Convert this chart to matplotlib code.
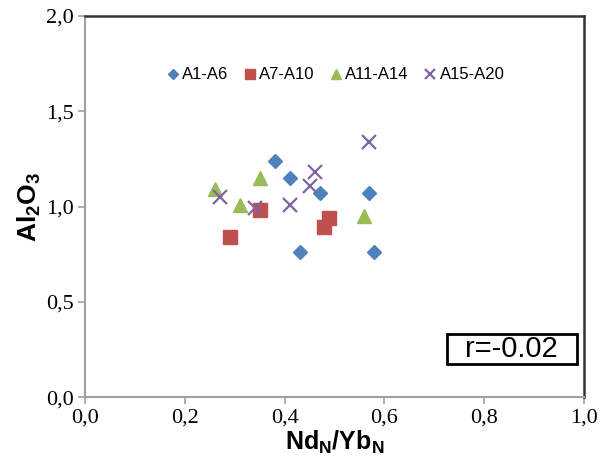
import matplotlib
matplotlib.use('Agg')
import matplotlib.pyplot as plt
from matplotlib.patches import Rectangle

plt.rcParams['mathtext.fontset'] = 'custom'
plt.rcParams['mathtext.rm'] = 'Liberation Sans'
plt.rcParams['mathtext.bf'] = 'Liberation Sans:bold'

# data
a1_x = [0.38, 0.41, 0.47, 0.57, 0.43, 0.58]
a1_y = [1.24, 1.15, 1.07, 1.07, 0.76, 0.76]
a7_x = [0.35, 0.29, 0.49, 0.48]
a7_y = [0.98, 0.84, 0.94, 0.89]
a11_x = [0.26, 0.35, 0.31, 0.56]
a11_y = [1.09, 1.15, 1.01, 0.95]
a15_x = [0.57, 0.46, 0.45, 0.27, 0.34, 0.41]
a15_y = [1.34, 1.18, 1.11, 1.05, 0.99, 1.01]

xticks = [0.0, 0.2, 0.4, 0.6, 0.8, 1.0]
xtick_labels = ['0,0', '0,2', '0,4', '0,6', '0,8', '1,0']
yticks = [0.0, 0.5, 1.0, 1.5, 2.0]
ytick_labels = ['0,0', '0,5', '1,0', '1,5', '2,0']

fig = plt.figure(figsize=(6.02, 4.66), dpi=100)
ax = fig.add_axes([0.1412, 0.1474, 0.8288, 0.8189])

ax.plot(a1_x, a1_y, 'D', color='#4F81BD', markersize=7.4, linestyle='none', label='A1-A6')
ax.plot(a7_x, a7_y, 's', color='#C0504D', markersize=10.5, linestyle='none', label='A7-A10')
ax.plot(a11_x, a11_y, '^', color='#9BBB59', markersize=10.5, linestyle='none', label='A11-A14')
ax.plot(a15_x, a15_y, 'x', color='#8064A2', markersize=10, markeredgewidth=1.6,
        linestyle='none', label='A15-A20')

ax.set_xlim(0, 1)
ax.set_ylim(0, 2)
ax.set_xticks(xticks)
ax.set_xticklabels(xtick_labels, family='Liberation Serif', fontsize=16)
ax.set_yticks(yticks)
ax.set_yticklabels(ytick_labels, family='Liberation Serif', fontsize=16)
ax.tick_params(direction='out', length=5, width=1.2, color='#a0a0a0', pad=3)

for s in ['left', 'bottom']:
    ax.spines[s].set_color('#a0a0a0')
    ax.spines[s].set_linewidth(1.5)
for s in ['top', 'right']:
    ax.spines[s].set_color('#333333')
    ax.spines[s].set_linewidth(1.8)

ax.set_xlabel(r'$\mathbf{Nd_N/Yb_N}$', fontsize=18, labelpad=1)
ax.set_ylabel(r'$\mathbf{Al_2O_3}$', fontsize=19, labelpad=2)

leg = ax.legend(loc='center', bbox_to_anchor=(0.5, 0.845), ncol=4, frameon=False,
                prop={'family': 'Liberation Sans', 'size': 12}, handletextpad=0.05,
                columnspacing=0.8, handlelength=1.0, markerscale=0.75)

# r box
ax.add_patch(Rectangle((0.725, 0.087), 0.261, 0.079, transform=ax.transAxes,
                       facecolor='white', edgecolor='black', linewidth=2, zorder=5))
ax.text(0.8555, 0.1265, 'r=-0.02', transform=ax.transAxes, ha='center', va='center',
        family='Liberation Sans', fontsize=21, zorder=6)

fig.savefig('out.png', dpi=100)
